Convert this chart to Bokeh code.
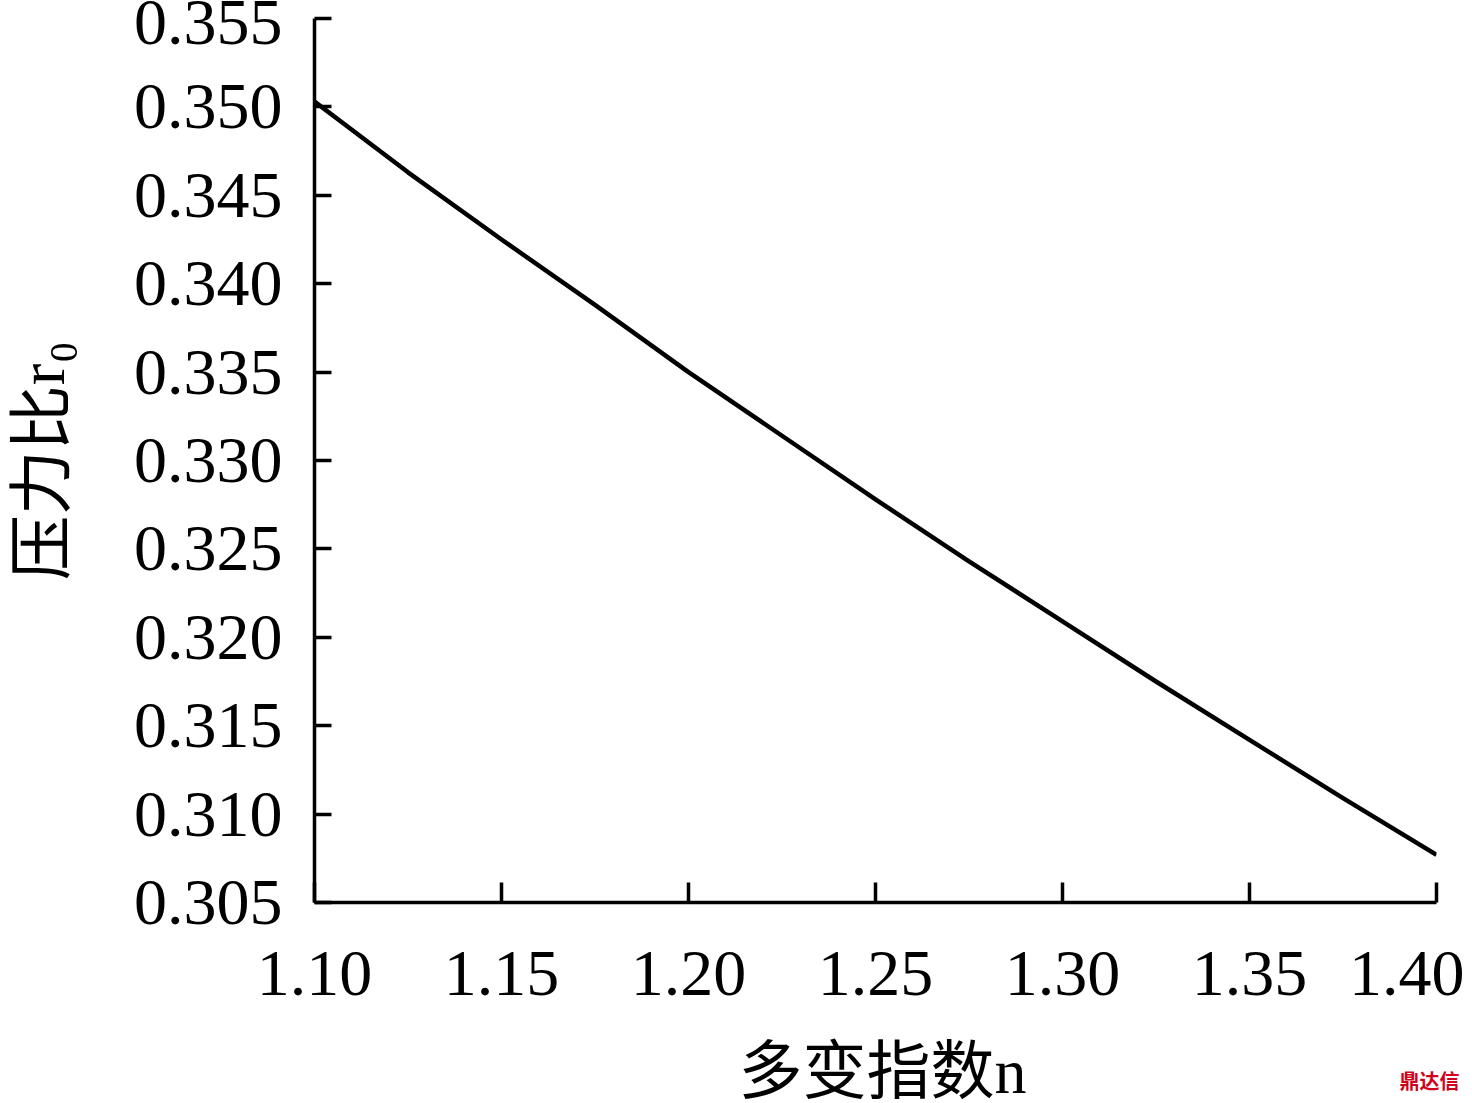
from bokeh.plotting import figure
from bokeh.models import FixedTicker, CustomJSTickFormatter, Range1d, Label
from bokeh.embed import file_html
from bokeh.resources import INLINE

# data
n_values = [1.100, 1.125, 1.150, 1.175, 1.200, 1.225, 1.250, 1.275, 1.300, 1.325, 1.350, 1.375, 1.400]
r0_values = [0.3503, 0.3463, 0.3425, 0.3388, 0.3350, 0.3314, 0.3278, 0.3243, 0.3209, 0.3175, 0.3142, 0.3109, 0.3077]

x_ticks = [1.10, 1.15, 1.20, 1.25, 1.30, 1.35, 1.40]
y_ticks = [0.305, 0.310, 0.315, 0.320, 0.325, 0.330, 0.335, 0.340, 0.345, 0.350, 0.355]
x_label = "多变指数n"
y_label = "压力比r₀"
watermark = "鼎达信"

# layout (pixels)
W, H = 1464, 1103
BL, BR, BT, BB = 314, 28, 18, 201
x0, x1 = 1.10, 1.40
y0, y1 = 0.305, 0.355
frame_w = W - BL - BR
frame_h = H - BT - BB


def px_to_x(px):
    # canvas x pixel -> data x
    return x0 + (px - BL) * (x1 - x0) / frame_w


def px_to_y(py):
    # canvas y pixel (from top) -> data y
    return y0 - (py - (H - BB)) * (y1 - y0) / frame_h


p = figure(width=W, height=H, output_backend="svg", toolbar_location=None,
           x_range=Range1d(x0, x1), y_range=Range1d(y0, y1),
           min_border_left=BL, min_border_right=BR, min_border_top=BT, min_border_bottom=BB)

p.line(n_values, r0_values, line_color="black", line_width=4.5, line_join="round")

p.outline_line_color = None
p.xgrid.visible = False
p.ygrid.visible = False
p.background_fill_color = "white"
p.border_fill_color = "white"

label_font = "'Liberation Serif', 'Times New Roman', serif"
cjk_font = "'Liberation Serif', 'Noto Sans CJK SC', serif"

xa = p.xaxis[0]
xa.ticker = FixedTicker(ticks=x_ticks)
xa.formatter = CustomJSTickFormatter(code="return tick.toFixed(2);")
xa.major_tick_in = 20
xa.major_tick_out = 0
xa.minor_tick_line_color = None
xa.axis_line_width = 3.5
xa.major_tick_line_width = 3.5
xa.axis_line_color = "black"
xa.major_tick_line_color = "black"
xa.major_label_text_font = label_font
xa.major_label_text_font_size = "66px"
xa.major_label_text_color = "black"
xa.major_label_standoff = 49

ya = p.yaxis[0]
ya.ticker = FixedTicker(ticks=y_ticks)
ya.formatter = CustomJSTickFormatter(code="return tick.toFixed(3);")
ya.major_tick_in = 17
ya.major_tick_out = 0
ya.minor_tick_line_color = None
ya.axis_line_width = 3.5
ya.major_tick_line_width = 3.5
ya.axis_line_color = "black"
ya.major_tick_line_color = "black"
ya.major_label_text_font = label_font
ya.major_label_text_font_size = "66px"
ya.major_label_text_color = "black"
ya.major_label_standoff = 32
ya.axis_label = y_label
ya.axis_label_text_font = cjk_font
ya.axis_label_text_font_size = "65px"
ya.axis_label_text_font_style = "normal"
ya.axis_label_text_color = "black"
ya.axis_label_standoff = 53

# x-axis title, placed in the bottom panel (not clipped to the frame)
xl = Label(x=px_to_x(882), y=px_to_y(1071), x_units="data", y_units="data", text=x_label,
           text_color="black", text_font=cjk_font, text_font_size="64px",
           text_baseline="alphabetic", text_align="center")
p.add_layout(xl, "below")

wm = Label(x=px_to_x(1399), y=px_to_y(1080), x_units="data", y_units="data", text=watermark,
           text_color="#d0021b", text_font="Noto Sans CJK SC", text_font_style="bold",
           text_font_size="20px", text_baseline="alphabetic", text_align="left")
p.add_layout(wm, "below")

open("out.html", "w").write(file_html(p, INLINE))
